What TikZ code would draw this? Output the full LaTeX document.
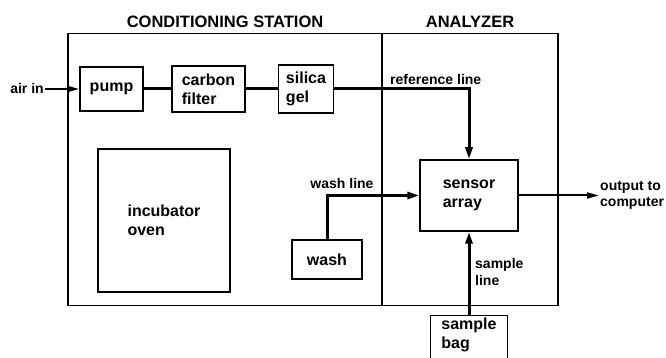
\documentclass[tikz,border=0pt]{standalone}
\usepackage{fontspec}
\setmainfont{Liberation Sans}
\usetikzlibrary{arrows.meta,positioning}

\begin{document}
\begin{tikzpicture}[x=1pt, y=1pt,
  box/.style={rectangle, draw, line width=1.5pt, align=left, inner sep=2pt, font=\fontsize{16}{19}\selectfont\bfseries},
  frame/.style={rectangle, draw, line width=1.5pt, minimum height=272pt},
  title/.style={font=\fontsize{16.5}{19}\selectfont\bfseries, label distance=2pt},
  tag/.style={align=left, inner sep=1pt, font=\fontsize{14}{16.5}\selectfont\bfseries},
  flow/.style={line width=3pt},
  arr/.style={-{Triangle[length=12pt,width=7pt]}, line width=3pt},
  outarr/.style={-{Triangle[length=12pt,width=6pt]}, line width=2pt}
]
\useasboundingbox (0,0) rectangle (666,358);

\node[frame, minimum width=314pt, label={[title]above:CONDITIONING STATION}] (station) at (225,188.5) {};
\node[frame, minimum width=176pt, label={[title]above:ANALYZER}] (analyzer) at (470,188.5) {};

\node[box, minimum width=63pt, minimum height=44pt] (pump) at (111.5,269) {pump};
\node[box, minimum width=73pt, minimum height=46pt] (carbon) at (208.5,269) {carbon\\filter};
\node[box, minimum width=55pt, minimum height=48pt] (silica) at (306,269) {silica\\gel};
\node[box, minimum width=132pt, minimum height=143pt] (oven) at (164,137.5) {incubator\\oven};
\node[box, minimum width=70pt, minimum height=39pt] (wash) at (327,98.5) {wash};
\node[box, minimum width=98pt, minimum height=71pt] (sensor) at (469,162.5) {sensor\\array};
\node[box, minimum width=77pt, text depth=22pt, anchor=north] (bag) at (469,43) {sample\\bag};

\node[tag] (airin) at (27,269) {air in};
\node[tag, anchor=west] (output) at (599,162.5) {output to\\computer};
\node[tag, anchor=west] (refline) at (389,278) {reference line};
\node[tag] (washline) at (342,174) {wash line};
\node[tag, anchor=west] (sampleline) at (474,86) {sample\\line};

\draw[outarr] (airin) -- (pump);
\foreach \a/\b in {pump/carbon, carbon/silica}
  \draw[flow] (\a) -- (\b);
\draw[arr] (silica.east) -| (sensor.north);
\draw[arr] (wash.north) |- (sensor.west);
\draw[arr] (bag.north) -- (sensor.south);
\draw[outarr] (sensor.east) -- (output.west);

\end{tikzpicture}
\end{document}
